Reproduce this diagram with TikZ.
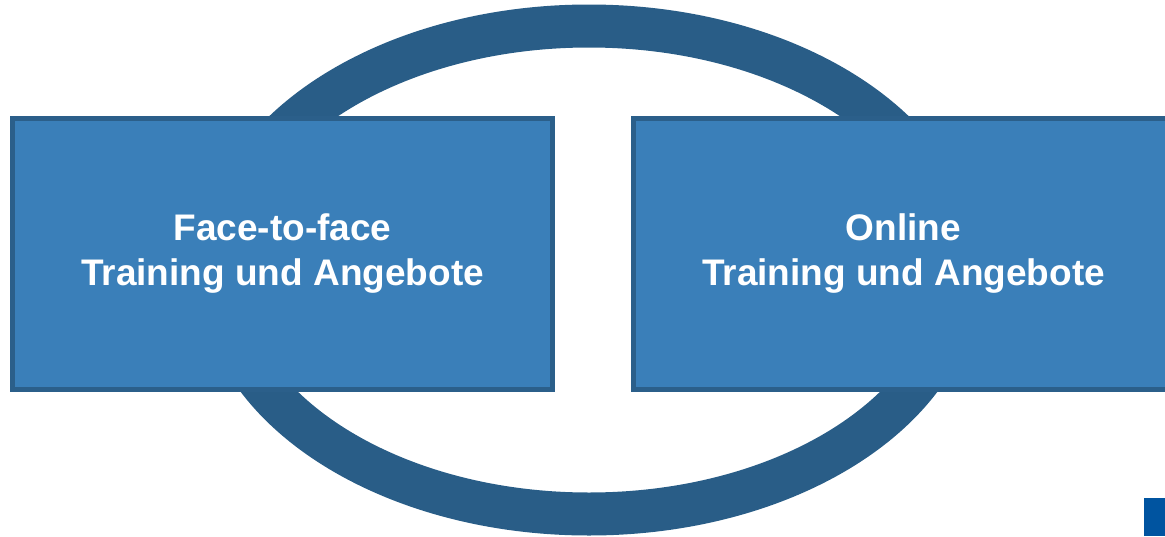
\documentclass[tikz,border=0pt]{standalone}
\usepackage{fontspec}
\setmainfont{Liberation Sans}
\usetikzlibrary{positioning}
\definecolor{ringblue}{RGB}{41,93,135}
\definecolor{boxfill}{RGB}{58,127,185}
\definecolor{boxline}{RGB}{43,95,138}
\definecolor{cornerblue}{RGB}{0,84,160}
\tikzset{
	every node/.style = {font=\fontsize{37}{45}\selectfont\bfseries},
	trainbox/.style = {draw=boxline, fill=boxfill, line width=5pt, text=white,
		minimum width=540pt, minimum height=271pt, align=center, inner sep=0pt}
}
\begin{document}
\begin{tikzpicture}[x=1pt, y=-1pt]
		\useasboundingbox (0,0) rectangle (1165,536);
		% ring
		\draw[ringblue, line width=43pt] (589,270) ellipse [x radius=370pt, y radius=244pt];
		% boxes
		\node[trainbox] (ftf) at (282.5,254) {Face-to-face\\Training und Angebote};
		\node[trainbox, right=76pt of ftf] (online) {Online\\Training und Angebote};
		% corner mark
		\fill[cornerblue] (1144,498) rectangle (1165,536);
	\end{tikzpicture}
\end{document}
